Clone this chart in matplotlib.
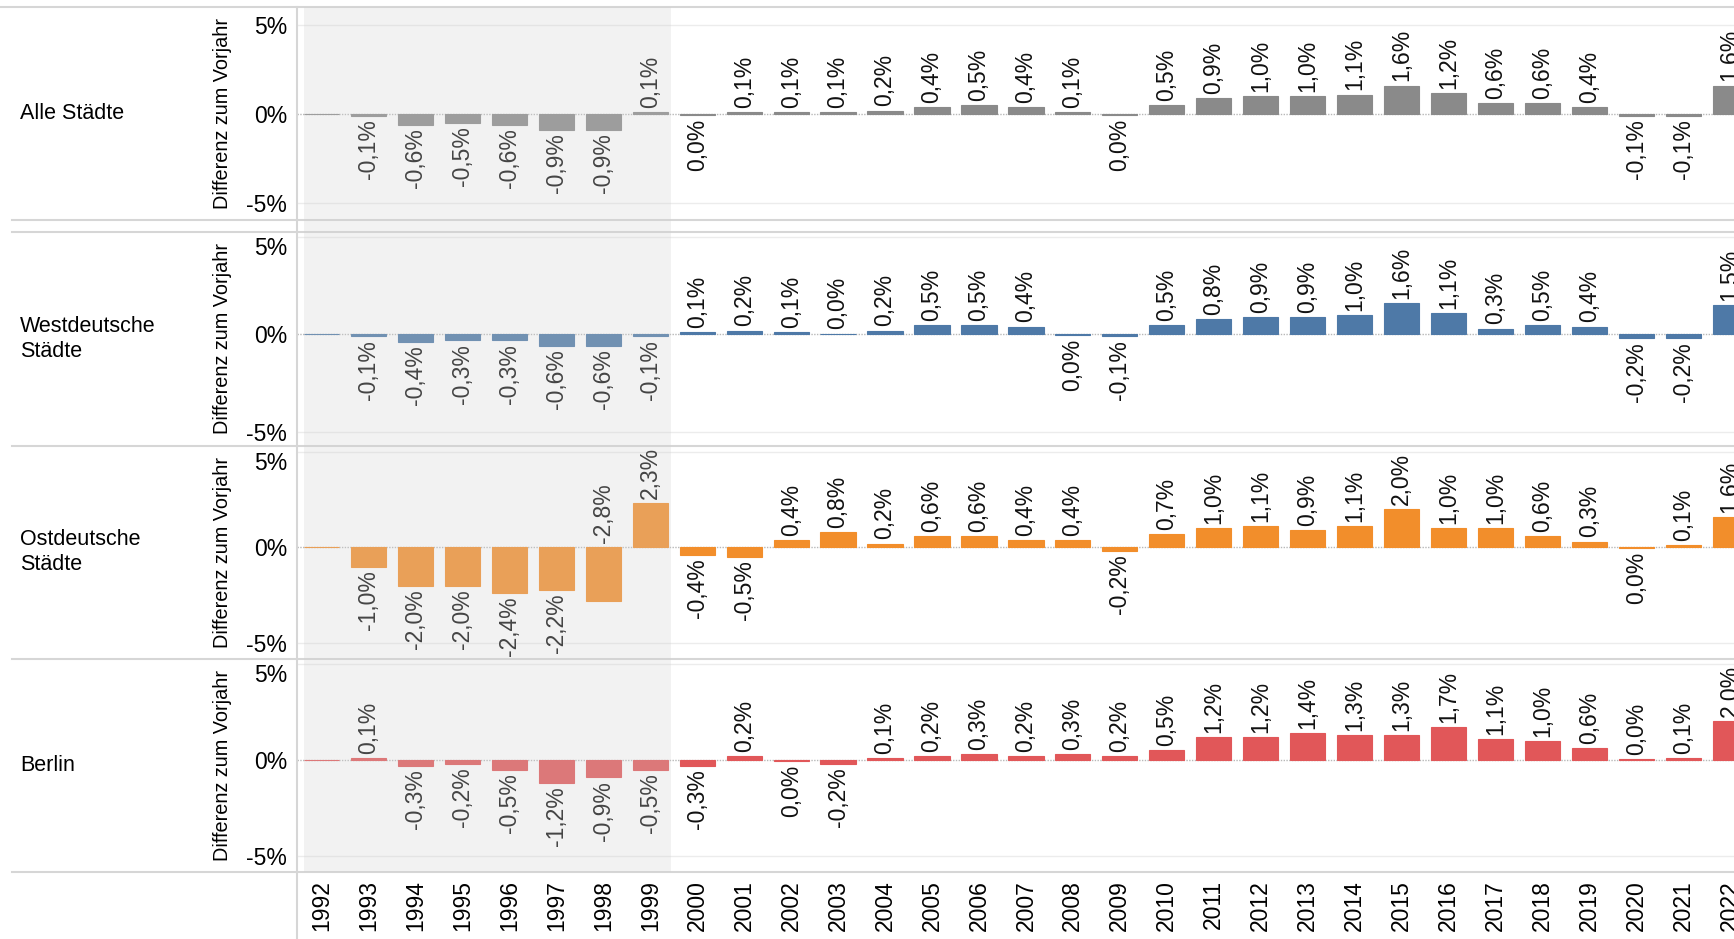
import matplotlib
matplotlib.use("Agg")
import matplotlib.pyplot as plt
import matplotlib.transforms as mtransforms
from matplotlib.patches import Rectangle
from matplotlib.lines import Line2D

# ---------------- data ----------------
years = list(range(1992, 2023))
year_labels = [str(y) for y in years]

# change vs. previous year in % ("0,0%" values keep the sign shown by the label side)
alle = [0.0, -0.1, -0.6, -0.5, -0.6, -0.9, -0.9, 0.1, -0.04, 0.1, 0.1, 0.1, 0.2, 0.4, 0.5, 0.4,
        0.1, -0.04, 0.5, 0.9, 1.0, 1.0, 1.1, 1.6, 1.2, 0.6, 0.6, 0.4, -0.1, -0.1, 1.6]
west = [0.0, -0.1, -0.4, -0.3, -0.3, -0.6, -0.6, -0.1, 0.1, 0.2, 0.1, 0.04, 0.2, 0.5, 0.5, 0.4,
        -0.04, -0.1, 0.5, 0.8, 0.9, 0.9, 1.0, 1.6, 1.1, 0.3, 0.5, 0.4, -0.2, -0.2, 1.5]
ost = [0.0, -1.0, -2.0, -2.0, -2.4, -2.2, -2.8, 2.3, -0.4, -0.5, 0.4, 0.8, 0.2, 0.6, 0.6, 0.4,
       0.4, -0.2, 0.7, 1.0, 1.1, 0.9, 1.1, 2.0, 1.0, 1.0, 0.6, 0.3, -0.04, 0.1, 1.6]
berlin = [0.0, 0.1, -0.3, -0.2, -0.5, -1.2, -0.9, -0.5, -0.3, 0.2, -0.04, -0.2, 0.1, 0.2, 0.3, 0.2,
          0.3, 0.2, 0.5, 1.2, 1.2, 1.4, 1.3, 1.3, 1.7, 1.1, 1.0, 0.6, 0.04, 0.1, 2.0]

row_labels = ["Alle Städte", "Westdeutsche\nStädte", "Ostdeutsche\nStädte", "Berlin"]
series = [alle, west, ost, berlin]
colors = ["#8a8a8a", "#4e79a7", "#f28e2b", "#e15759"]
y_title = "Differenz zum Vorjahr"
tick_vals = [-5, 0, 5]
tick_labels = ["-5%", "0%", "5%"]
shade_from, shade_to = 1991.62, 1999.45

# ---------------- layout ----------------
W, H = 1734, 939
plt.rcParams["font.family"] = ["Liberation Sans", "DejaVu Sans"]
fig = plt.figure(figsize=(W / 100, H / 100), dpi=100)

panels_px = [(7.3, 220.0), (232.3, 445.3), (446.0, 658.3), (659.3, 871.7)]
ylims = [(-5.95, 6.0), (-5.7, 5.25), (-5.79, 5.29), (-5.8, 5.23)]
ax_left_px = 296.7
xlim = (1991.47, 2022.08)
VAL_FS = 16.5


def fmt(v):
    r = round(v, 1)
    if abs(r) < 0.05:
        return "0,0%"
    return f"{r:.1f}".replace(".", ",") + "%"


axes = []
for i, (vals, col, (top, bot), yl) in enumerate(zip(series, colors, panels_px, ylims)):
    ax = fig.add_axes([ax_left_px / W, 1 - bot / H, 1 - ax_left_px / W, (bot - top) / H])
    axes.append(ax)
    ax.set_xlim(*xlim)
    ax.set_ylim(*yl)
    for s in ax.spines.values():
        s.set_visible(False)
    ax.axhline(5, color="#ececec", lw=1, zorder=1)
    ax.axhline(-5, color="#ececec", lw=1, zorder=1)
    ax.axhline(0, color="#b8b8b8", lw=1, ls=(0, (1, 1)), zorder=2)
    ax.bar(years, vals, width=0.75, color=col, edgecolor=col, linewidth=0.8, zorder=3)

    ppu = (bot - top) / (yl[1] - yl[0])
    for yr, v in zip(years, vals):
        if yr == years[0]:
            continue
        lab = fmt(v)
        if v >= 0:
            ax.annotate(lab, (yr, v), xytext=(0, 3), textcoords="offset points",
                        rotation=90, ha="center", va="bottom", fontsize=VAL_FS,
                        color="#111111", zorder=4)
        else:
            need = v - 60 / ppu
            if need < yl[0]:
                ax.annotate(lab, (yr, 0), xytext=(0, 3), textcoords="offset points",
                            rotation=90, ha="center", va="bottom", fontsize=VAL_FS,
                            color="#111111", zorder=4)
            else:
                ax.annotate(lab, (yr, v), xytext=(0, -2.5), textcoords="offset points",
                            rotation=90, ha="center", va="top", fontsize=VAL_FS,
                            color="#111111", zorder=4)

    ax.set_yticks(tick_vals, tick_labels, fontsize=16.5)
    ax.tick_params(axis="y", length=0, pad=7)
    if i > 0:
        for t in ax.get_yticklabels():
            if t.get_text() == "5%":
                t.set_va("top")
    if i < 3:
        ax.set_xticks([])
    else:
        ax.set_xticks(years, year_labels, rotation=90, fontsize=16.5)
        ax.tick_params(axis="x", length=0, pad=6)

    mid = (top + bot) / 2
    fig.text(20 / W, 1 - mid / H, row_labels[i], fontsize=15.5, ha="left", va="center",
             linespacing=1.25)
    fig.text(223 / W, 1 - mid / H, y_title, rotation=90, fontsize=14.3, ha="center",
             va="center")

# frame lines
line_col = "#d6d6d6"
fig.add_artist(Line2D([0, 1], [1 - 7.3 / H] * 2, transform=fig.transFigure, color=line_col, lw=1.5))
for yy in [220.0, 232.3, 445.6, 658.8, 871.7]:
    fig.add_artist(Line2D([12 / W, 1], [1 - yy / H] * 2, transform=fig.transFigure,
                          color=line_col, lw=1.5))
fig.add_artist(Line2D([ax_left_px / W] * 2, [0, 1 - 7.3 / H], transform=fig.transFigure,
                      color=line_col, lw=1.5))

# shaded period overlay
trans = mtransforms.blended_transform_factory(axes[-1].transData, fig.transFigure)
fig.add_artist(Rectangle((shade_from, 1 - 872 / H), shade_to - shade_from, (872 - 7.3) / H,
                         transform=trans, facecolor="#d2d2d2", edgecolor="none",
                         alpha=0.27, zorder=10))

fig.savefig("out.png", dpi=100)
